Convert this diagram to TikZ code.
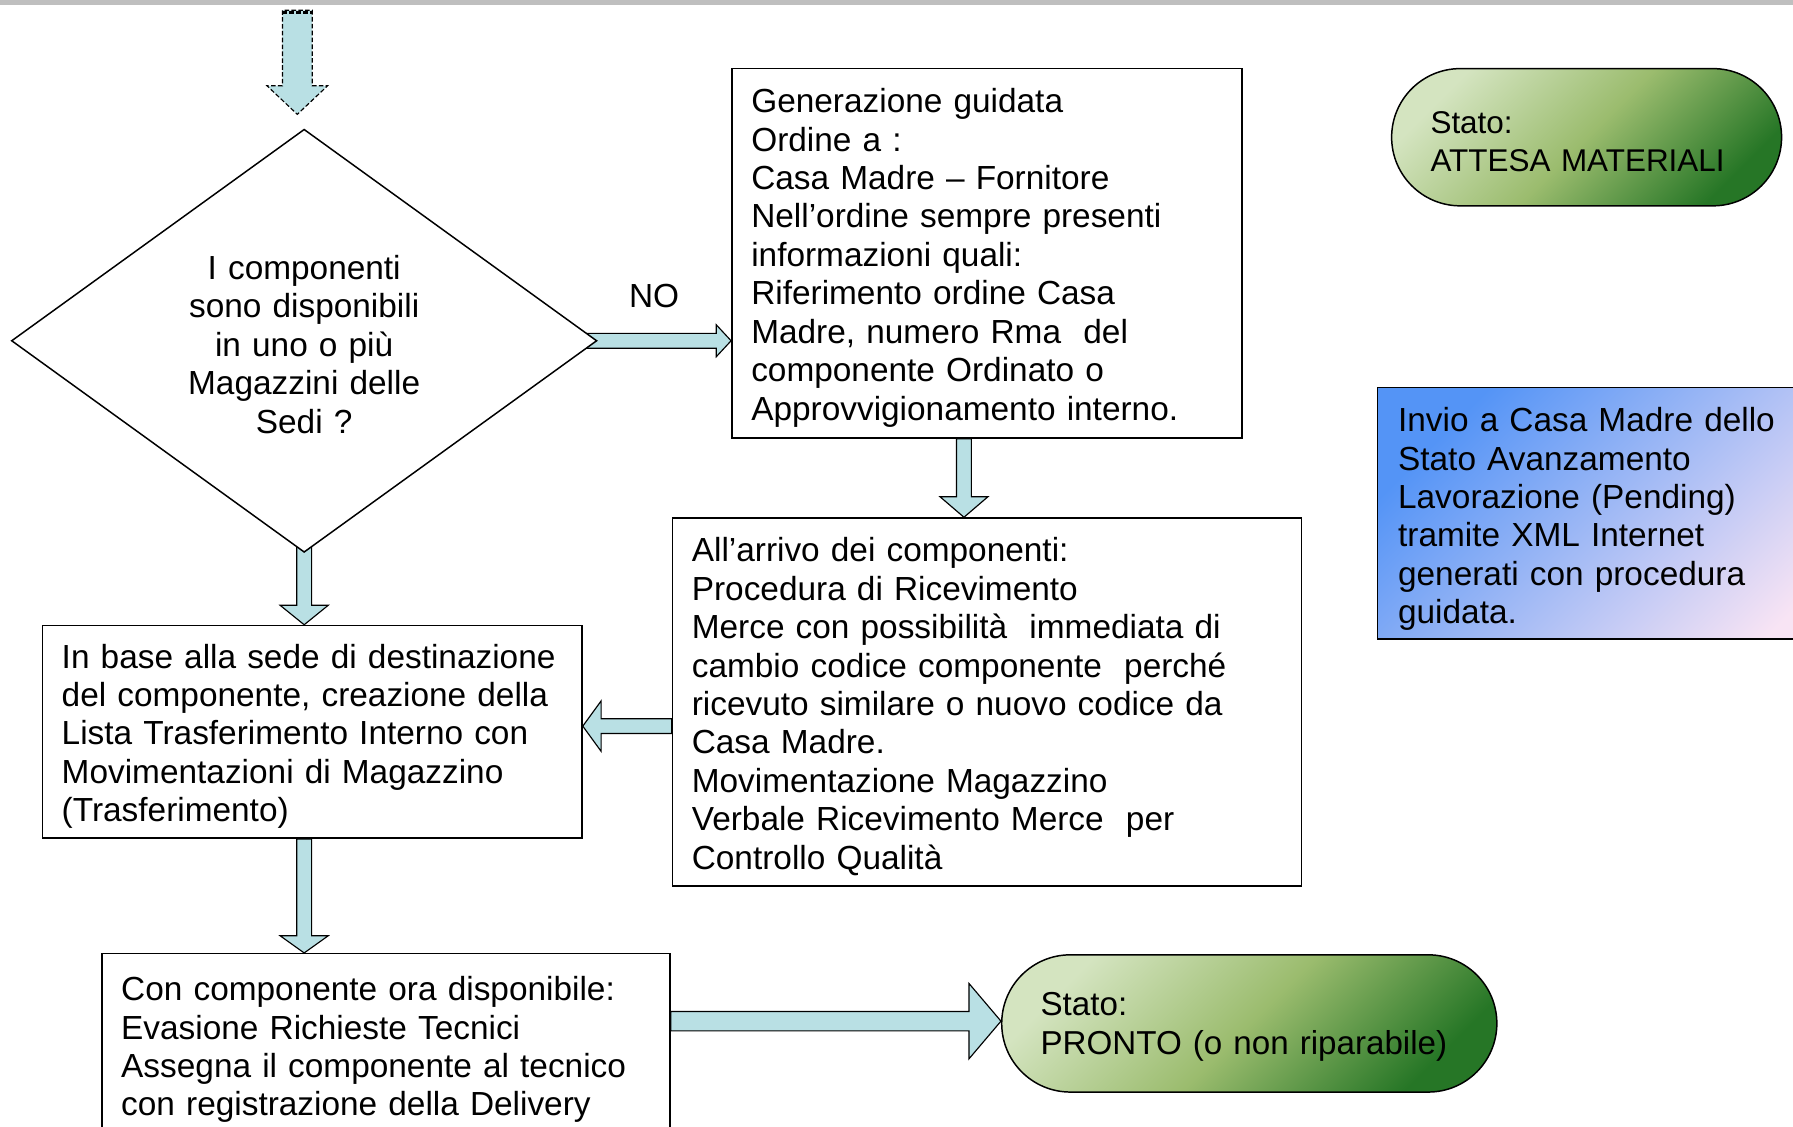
\documentclass[tikz,border=0pt]{standalone}
\usepackage{fontspec}
\setmainfont{Liberation Sans}
\usetikzlibrary{calc,backgrounds,shapes.geometric}
\definecolor{arrowfill}{RGB}{185,224,228}
\definecolor{pillA}{RGB}{212,228,192}
\definecolor{pillB}{RGB}{155,188,110}
\definecolor{pillC}{RGB}{38,118,38}
\definecolor{blueA}{RGB}{84,148,246}
\definecolor{blueB}{RGB}{150,198,246}
\definecolor{blueC}{RGB}{248,228,244}
\newcommand{\blkdown}[5]{%
  \draw[barrow] let \p1=(#1), \p2=(#2) in
   (\x1-#3pt,\y1) -- (\x1-#3pt,\y2+#5pt) -- (\x1-#4pt,\y2+#5pt) -- (\x1,\y2)
   -- (\x1+#4pt,\y2+#5pt) -- (\x1+#3pt,\y2+#5pt) -- (\x1+#3pt,\y1) -- cycle;}
\newcommand{\blkright}[5]{%
  \draw[barrow] let \p1=(#1), \p2=(#2) in
   (\x1,\y1+#3pt) -- (\x2-#5pt,\y1+#3pt) -- (\x2-#5pt,\y1+#4pt) -- (\x2,\y1)
   -- (\x2-#5pt,\y1-#4pt) -- (\x2-#5pt,\y1-#3pt) -- (\x1,\y1-#3pt) -- cycle;}
\newcommand{\blkleft}[5]{%
  \draw[barrow] let \p1=(#1), \p2=(#2) in
   (\x1,\y1+#3pt) -- (\x2+#5pt,\y1+#3pt) -- (\x2+#5pt,\y1+#4pt) -- (\x2,\y1)
   -- (\x2+#5pt,\y1-#4pt) -- (\x2+#5pt,\y1-#3pt) -- (\x1,\y1-#3pt) -- cycle;}
\begin{document}
\begin{tikzpicture}[x=1pt,y=-1pt,
  font=\fontsize{29.2}{33.6}\selectfont,
  tshift/.style={execute at begin node={\rule{0pt}{#1}}},
  box/.style={draw=black, line width=1.3pt, fill=white, align=left,
    inner xsep=17pt, inner ysep=0pt, tshift=29pt},
  pill/.style={draw=black, line width=1.3pt, rounded corners=60pt, align=left,
    inner xsep=34pt, inner ysep=0pt, minimum height=120pt, tshift=27pt,
    top color=pillA, bottom color=pillC, middle color=pillB, shading angle=45},
  barrow/.style={draw=black, line width=1pt, fill=arrowfill, line join=miter}]
\useasboundingbox (0,0) rectangle (1568,985);
\clip (0,0) rectangle (1568,985);
\fill[black!25] (0,0) rectangle (1568,4);

% decision
\node[diamond, draw=black, line width=1.3pt, fill=white, aspect=1.384,
  minimum width=512pt, minimum height=370pt, inner sep=0pt, align=center,
  text width=230pt, tshift=27.5pt]
  (d) at (266,298) {I componenti\\sono disponibili\\in uno o più\\Magazzini delle\\Sedi ?};

% boxes
\node[box, text width=412pt, minimum height=323pt] (b1) at (863,221.5)
 {Generazione guidata\\Ordine a :\\Casa Madre – Fornitore\\Nell’ordine sempre presenti\\informazioni quali:\\Riferimento ordine Casa\\Madre, numero Rma\ \ del\\componente Ordinato o\\Approvvigionamento interno.};
\node[box, text width=516pt, minimum height=322pt] (b2) at (863,614)
 {All’arrivo dei componenti:\\Procedura di Ricevimento\\Merce con possibilità\ \ immediata di\\cambio codice componente\ \ perché\\ricevuto similare o nuovo codice da\\Casa Madre.\\Movimentazione Magazzino\\Verbale Ricevimento Merce\ \ per\\Controllo Qualità};
\node[box, text width=438pt, minimum height=186pt] (b3) at (273,640)
 {In base alla sede di destinazione\\del componente, creazione della\\Lista Trasferimento Interno con\\Movimentazioni di Magazzino\\(Trasferimento)};
\node[box, text width=463pt, minimum height=160pt, tshift=25pt] (b4) at (337.5,914)
 {Con componente ora disponibile:\\Evasione Richieste Tecnici\\Assegna il componente al tecnico\\con registrazione della Delivery};

% states
\node[pill, text width=273pt, font=\fontsize{27.5}{34}\selectfont] (p1) at (1387.5,120)
 {Stato:\\ATTESA MATERIALI};
\node[pill, text width=365pt, font=\fontsize{29}{34}\selectfont] (p2) at (1092.5,895)
 {Stato:\\PRONTO (o non riparabile)};

% info box
\node[draw=black, line width=1.3pt, align=left, anchor=west, text width=400pt,
  inner xsep=18pt, inner ysep=0pt, minimum height=220pt, tshift=31pt,
  top color=blueA, middle color=blueB, bottom color=blueC, shading angle=45]
  (info) at (1204,449)
 {Invio a Casa Madre dello\\Stato Avanzamento\\Lavorazione (Pending)\\tramite XML Internet\\generati con procedura\\guidata.};

\node (no) at (572,259) {NO};

% connectors
\coordinate (s0) at (260,9);
\coordinate (s1) at (260,100);
\coordinate (a2s) at ($(d.east)+(-14,0)$);
\coordinate (a3s) at (b1.south -| 843,0);
\coordinate (a3e) at (b2.north -| 843,0);
\coordinate (a4s) at (b2.west |- 0,635);
\coordinate (a4e) at (b3.east |- 0,635);
\coordinate (a5s) at ($(d.south)+(0,-12)$);
\coordinate (a6s) at (b3.south -| 266,0);
\coordinate (a6e) at (b4.north -| 266,0);
\coordinate (a7s) at (b4.east |- 0,893);
\coordinate (a7e) at (p2.west |- 0,893);
\begin{scope}[on background layer]
\begin{scope}[barrow/.append style={dash pattern=on 4pt off 2pt}]
\blkdown{s0}{s1}{13}{26.5}{25}
\end{scope}
\draw[line width=3pt, dash pattern=on 4pt off 2pt] (247,11) -- (273,11);
\blkright{a2s}{b1.west |- d.east}{6.5}{14}{13}
\blkdown{a3s}{a3e}{6.5}{21}{18}
\blkleft{a4s}{a4e}{6.5}{22}{16}
\blkdown{a5s}{d.south |- b3.north}{6.5}{21}{17}
\blkdown{a6s}{a6e}{6.5}{21}{15}
\blkright{a7s}{a7e}{8.5}{33}{28}
\end{scope}
\end{tikzpicture}
\end{document}
